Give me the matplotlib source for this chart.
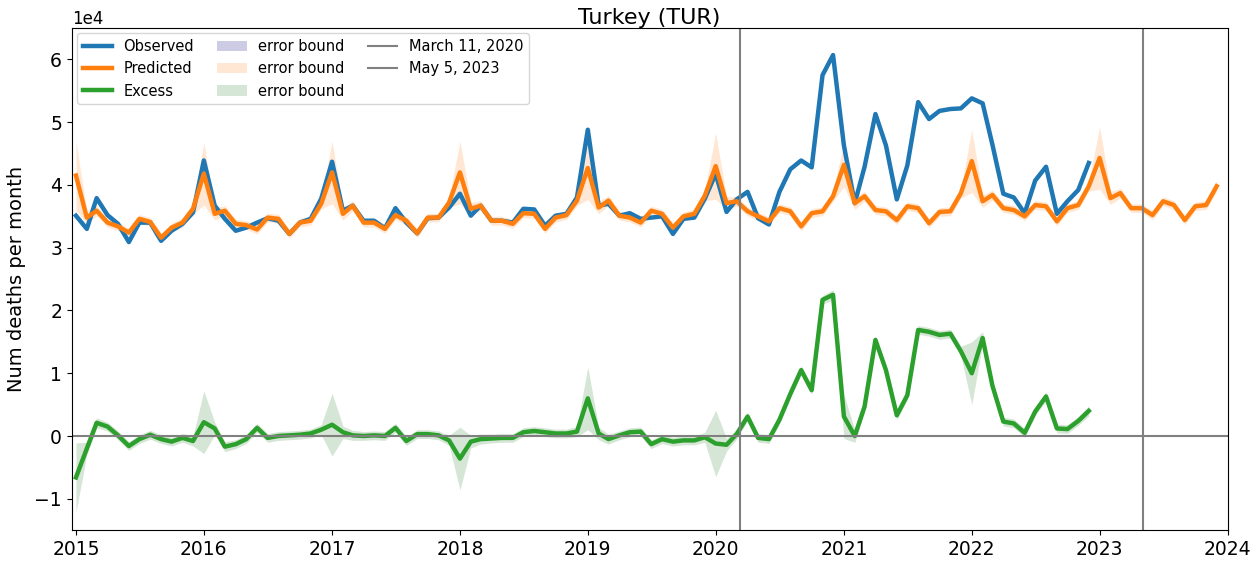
import matplotlib
matplotlib.use("Agg")
import matplotlib.pyplot as plt
import pandas as pd
import numpy as np

# monthly deaths, Turkey (TUR)
observed = [35100, 33000, 37900, 35200, 33800, 30900, 34000, 34000, 31100, 32700, 33800, 35600,
            43900, 36700, 34600, 32700, 33200, 34000, 34700, 34300, 32200, 34000, 34600, 37800,
            43700, 35900, 36700, 34300, 34300, 33100, 36300, 34000, 32300, 34700, 34800, 36400,
            38600, 35100, 36700, 34300, 34300, 34000, 36200, 36100, 33500, 35100, 35400, 38000,
            48800, 36700, 37000, 35100, 35500, 34600, 34800, 35000, 32200, 34600, 34800, 37800,
            41800, 35700, 37700, 38900, 34700, 33700, 38900, 42500, 43900, 42800, 57500, 60700,
            46300, 37100, 42900, 51300, 46300, 37700, 43100, 53200, 50500, 51800, 52100, 52200,
            53800, 53000, 46400, 38600, 38000, 35500, 40700, 42900, 35400, 37400, 39200, 43500]

predicted = [41500, 34800, 35900, 34000, 33400, 32400, 34600, 34100, 31600, 33200, 34000, 36200,
             41800, 35400, 35900, 33800, 33600, 32900, 34800, 34600, 32200, 34000, 34300, 37000,
             42000, 35400, 36700, 34000, 34000, 33000, 35200, 34300, 32300, 34800, 34800, 37200,
             42000, 36200, 36700, 34300, 34300, 33800, 35500, 35400, 33000, 34800, 35200, 37500,
             42700, 36400, 37500, 35100, 34800, 34000, 35900, 35400, 33200, 35000, 35400, 38300,
             43000, 37100, 37400, 35800, 35000, 34200, 36300, 35800, 33400, 35500, 35800, 38200,
             43200, 37100, 38200, 36000, 35800, 34400, 36600, 36300, 33900, 35700, 35800, 38700,
             43800, 37400, 38400, 36300, 36000, 35000, 36800, 36600, 34200, 36300, 36800, 39800,
             44300, 37900, 38700, 36300, 36300, 35200, 37400, 36800, 34400, 36600, 36800, 39800]

excess = [-6600, -2000, 2100, 1500, 100, -1600, -500, 200, -500, -900, -300, -800,
          2200, 1200, -1700, -1300, -500, 1300, -300, 0, 100, 200, 400, 1000,
          1800, 600, 100, 0, 100, 0, 1300, -800, 300, 300, 100, -700,
          -3600, -900, -500, -400, -300, -300, 600, 800, 600, 400, 400, 700,
          6000, 400, -500, 100, 600, 700, -1300, -500, -900, -700, -700, -200,
          -1200, -1400, 300, 3100, -300, -500, 2600, 6700, 10500, 7300, 21700, 22500,
          3100, 0, 4700, 15300, 10500, 3300, 6500, 16900, 16600, 16100, 16300, 13500,
          10000, 15600, 8000, 2300, 2000, 500, 3900, 6300, 1200, 1100, 2400, 4000]

# half width of the error bound around predicted / excess
pred_err = [5500, 1000, 800, 700, 700, 700, 700, 700, 700, 700, 700, 800,
            5000, 1000, 800, 700, 700, 700, 700, 700, 700, 700, 700, 800,
            5000, 1000, 800, 700, 700, 700, 700, 700, 700, 700, 700, 800,
            5000, 1000, 800, 700, 700, 700, 700, 700, 700, 700, 700, 800,
            5000, 1000, 800, 700, 700, 700, 700, 700, 700, 700, 700, 800,
            5300, 1000, 800, 700, 700, 700, 700, 700, 700, 700, 700, 800,
            3500, 1000, 800, 700, 700, 700, 700, 700, 700, 700, 700, 800,
            5000, 1000, 800, 700, 700, 700, 700, 700, 700, 700, 700, 800,
            5000, 1000, 800, 700, 700, 700, 700, 700, 700, 700, 700, 800]

start = '2015-01-01'
covid_start = pd.Timestamp('2020-03-11')
covid_end = pd.Timestamp('2023-05-05')
years = list(range(2015, 2025))

dates_pred = pd.date_range(start, periods=len(predicted), freq='MS')
dates_obs = pd.date_range(start, periods=len(observed), freq='MS')

observed = np.array(observed)
predicted = np.array(predicted)
excess = np.array(excess)
pred_err = np.array(pred_err)
n_obs = len(observed)

fig, ax = plt.subplots(figsize=(12.59, 5.61), dpi=100)
plt.subplots_adjust(left=0.057, right=0.975, top=0.95, bottom=0.055)

h_obs, = ax.plot(dates_obs, observed, color='C0', lw=3.2, label='Observed')
h_pred, = ax.plot(dates_pred, predicted, color='C1', lw=3.2, label='Predicted')
h_exc, = ax.plot(dates_obs, excess, color='C2', lw=3.2, label='Excess')

b_obs = ax.fill_between(dates_obs, observed, observed, color='navy', alpha=0.2, lw=0, label='error bound')
b_pred = ax.fill_between(dates_pred, predicted - pred_err, predicted + pred_err,
                         color='C1', alpha=0.18, lw=0, label='error bound')
b_exc = ax.fill_between(dates_obs, excess - pred_err[:n_obs], excess + pred_err[:n_obs],
                        color='darkgreen', alpha=0.16, lw=0, label='error bound')

v1 = ax.axvline(covid_start, color='grey', lw=1.5, label='March 11, 2020')
v2 = ax.axvline(covid_end, color='grey', lw=1.5, label='May 5, 2023')
ax.axhline(0, color='grey', lw=1.5)

ax.set_xticks([pd.Timestamp(f'{y}-01-01') for y in years])
ax.set_xticklabels([str(y) for y in years])
ax.set_xlim(pd.Timestamp('2014-12-20'), pd.Timestamp('2024-01-01'))
ax.set_ylim(-15000, 65000)
ax.ticklabel_format(axis='y', style='sci', scilimits=(0, 0))
ax.yaxis.get_offset_text().set_fontsize(12)
ax.tick_params(labelsize=13.5)

ax.set_ylabel('Num deaths per month', fontsize=14, labelpad=6)
ax.set_title('Turkey (TUR)', fontsize=16, pad=2)

ax.legend(handles=[h_obs, h_pred, h_exc, b_obs, b_pred, b_exc, v1, v2],
          loc='upper left', ncol=3, fontsize=10.5, columnspacing=1.6,
          borderaxespad=0.35)

plt.savefig('out.png', dpi=100)
